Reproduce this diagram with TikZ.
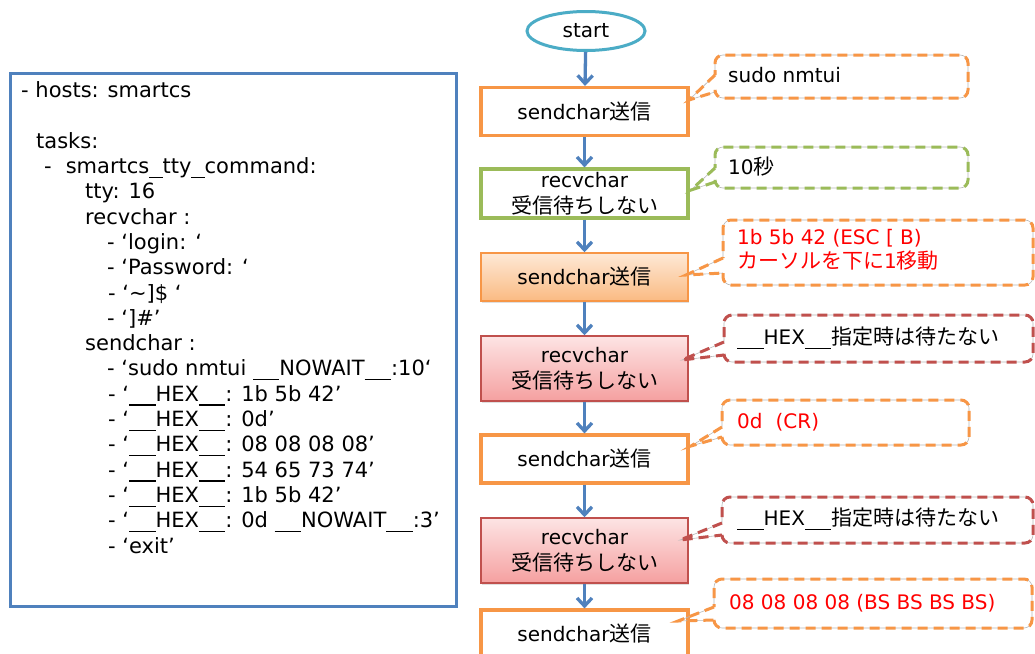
\documentclass[tikz,border=0pt]{standalone}
\usepackage{fontspec}
\setmainfont{DejaVu Sans}
\newfontfamily\jp{Noto Sans CJK JP}[Scale=1.05]
\usetikzlibrary{arrows.meta,shadows,shapes.geometric}

\definecolor{frameblue}{RGB}{79,129,189}
\definecolor{arrowblue}{RGB}{79,129,189}
\definecolor{startblue}{RGB}{75,172,198}
\definecolor{accorange}{RGB}{247,150,70}
\definecolor{accgreen}{RGB}{155,187,89}
\definecolor{accred}{RGB}{192,80,77}
\definecolor{notered}{RGB}{255,0,0}
\definecolor{peachtop}{RGB}{254,233,214}
\definecolor{peachbot}{RGB}{250,186,130}
\definecolor{pinktop}{RGB}{253,228,228}
\definecolor{pinkbot}{RGB}{245,160,160}

% wide, continuous underscore as in the listing font
\newcommand\us{\rule[-4.4pt]{13.2pt}{1.3pt}}

% rounded note frame with a wedge pointing at a step box
% #1 colour, #2 left, #3 top, #4 right, #5 bottom,
% #6 upper pointer base, #7 lower pointer base, #8 pointer tip
\newcommand\notebubble[8]{%
  \draw[bubbleguide] (#2,#7) -- (#2,#5) -- (#4,#5) -- (#4,#3) -- (#2,#3) -- (#2,#6);
  \draw[bubbleguide, sharp corners] (#2,#6) -- (#8) -- (#2,#7);
  \draw[bubbleline=#1] (#2,#7) -- (#2,#5) -- (#4,#5) -- (#4,#3) -- (#2,#3) -- (#2,#6);
  \draw[bubbleline=#1, sharp corners] (#2,#6) -- (#8) -- (#2,#7);
}

\tikzset{
  every node/.style={font=\fontsize{20}{26}\selectfont, inner sep=0pt},
  flowbox/.style={minimum width=207pt, align=center},
  sendbox/.style={flowbox, draw=accorange, line width=3.2pt, fill=white, minimum height=48pt},
  sendshade/.style={flowbox, draw=accorange, line width=1.5pt, top color=peachtop, bottom color=peachbot,
    minimum height=48pt, drop shadow={opacity=0.25, shadow xshift=1pt, shadow yshift=-2pt}},
  recvgreen/.style={flowbox, draw=accgreen, line width=3.2pt, fill=white, minimum height=49pt},
  recvshade/.style={flowbox, draw=accred, line width=1.5pt, top color=pinktop, bottom color=pinkbot,
    minimum height=65pt, drop shadow={opacity=0.25, shadow xshift=1pt, shadow yshift=-2pt}},
  startnode/.style={ellipse, draw=startblue, line width=3pt, fill=white, minimum width=118pt, minimum height=39pt},
  flowarrow/.style={draw=arrowblue, line width=3.3pt, -{Straight Barb[length=8pt,width=15pt]}},
  bubbleguide/.style={draw=black!28, line width=0.6pt, rounded corners=8pt},
  bubbleline/.style={draw=#1, line width=3pt, dash pattern=on 10pt off 6pt, rounded corners=8pt},
  notetext/.style={anchor=west, align=left},
}

\begin{document}
\begin{tikzpicture}[x=1pt, y=-1pt]
\useasboundingbox (0,0) rectangle (1035,653);
\clip (0,0) rectangle (1035,653);
\fill[white] (0,0) rectangle (1035,653);

% playbook listing
\node[draw=frameblue, line width=3pt, minimum width=446pt, minimum height=533pt] (frame) at (233,339.5) {};
\node[anchor=north west, align=left, font=\fontsize{21}{25.3}\selectfont] (yaml) at (21,81.5) {%
- hosts: smartcs\\
\mbox{}\\
\hspace*{15pt}tasks:\\
\hspace*{23pt}-\hspace*{14pt}smartcs\us tty\us command:\\
\hspace*{64pt}tty: 16\\
\hspace*{64pt}recvchar :\\
\hspace*{86pt}- ‘login: ‘\\
\hspace*{86pt}- ‘Password: ‘\\
\hspace*{87pt}- ‘\textasciitilde]\$ ‘\\
\hspace*{86pt}- ‘]\#’\\
\hspace*{64pt}sendchar :\\
\hspace*{86pt}- ‘sudo nmtui \us\us NOWAIT\us\us:10‘\\
\hspace*{87pt}- ‘\us\us HEX\us\us: 1b 5b 42’\\
\hspace*{87pt}- ‘\us\us HEX\us\us: 0d’\\
\hspace*{87pt}- ‘\us\us HEX\us\us: 08 08 08 08’\\
\hspace*{87pt}- ‘\us\us HEX\us\us: 54 65 73 74’\\
\hspace*{87pt}- ‘\us\us HEX\us\us: 1b 5b 42’\\
\hspace*{87pt}- ‘\us\us HEX\us\us: 0d \us\us NOWAIT\us\us:3’\\
\hspace*{87pt}- ‘exit’};

% flow of steps
\node[startnode] (start) at (586,31) {start};
\node[sendbox]   (s1) at (584.5,111.5) {sendchar{\jp 送信}};
\node[recvgreen] (r1) at (584.5,193.5) {recvchar\\{\jp 受信待ちしない}};
\node[sendshade] (s2) at (584.5,277)   {sendchar{\jp 送信}};
\node[recvshade] (r2) at (584.5,368.5) {recvchar\\{\jp 受信待ちしない}};
\node[sendbox]   (s3) at (584.5,459)   {sendchar{\jp 送信}};
\node[recvshade] (r3) at (584.5,550.5) {recvchar\\{\jp 受信待ちしない}};
\node[sendbox]   (s4) at (584.5,634)   {sendchar{\jp 送信}};

\draw[flowarrow] (start) -- (s1);
\draw[flowarrow] (s1) -- (r1);
\draw[flowarrow] (r1) -- (s2);
\draw[flowarrow] (s2) -- (r2);
\draw[flowarrow] (r2) -- (s3);
\draw[flowarrow] (s3) -- (r3);
\draw[flowarrow] (r3) -- (s4);

% pointer tips on the step boxes
\coordinate (t1) at (689,100);
\coordinate (t2) at (691,190);
\coordinate (t3) at (686,275);
\coordinate (t4) at (682,360);
\coordinate (t5) at (691,446);
\coordinate (t6) at (680,540);
\coordinate (t7) at (678,621);

% notes
\notebubble{accorange}{715}{55}{968}{98}{75}{92}{t1}
\node[notetext] (n1) at (728,75) {sudo nmtui};

\notebubble{accgreen}{715}{147}{968}{188}{168}{182}{t2}
\node[notetext] (n2) at (728,167) {10{\jp 秒}};

\notebubble{accorange}{723}{220}{1033}{285}{258}{273}{t3}
\node[notetext, text=notered, font=\fontsize{20}{24}\selectfont] (n3) at (737,250) {1b 5b 42 (ESC [ B)\\{\jp カーソルを下に}1{\jp 移動}};

\notebubble{accred}{724}{315}{1033}{362}{342}{355}{t4}
\node[notetext] (n4) at (737,338) {\us\us HEX\us\us{\jp 指定時は待たない}};

\notebubble{accorange}{722}{400}{969}{445}{427}{437}{t5}
\node[notetext, text=notered] (n5) at (737,422) {0d\hspace*{13pt}(CR)};

\notebubble{accred}{722}{497}{1033}{543}{523}{535}{t6}
\node[notetext] (n6) at (737,519) {\us\us HEX\us\us{\jp 指定時は待たない}};

\notebubble{accorange}{714}{579}{1032}{628}{607}{620}{t7}
\node[notetext, text=notered] (n7) at (729,603) {08 08 08 08 (BS BS BS BS)};
\end{tikzpicture}
\end{document}
